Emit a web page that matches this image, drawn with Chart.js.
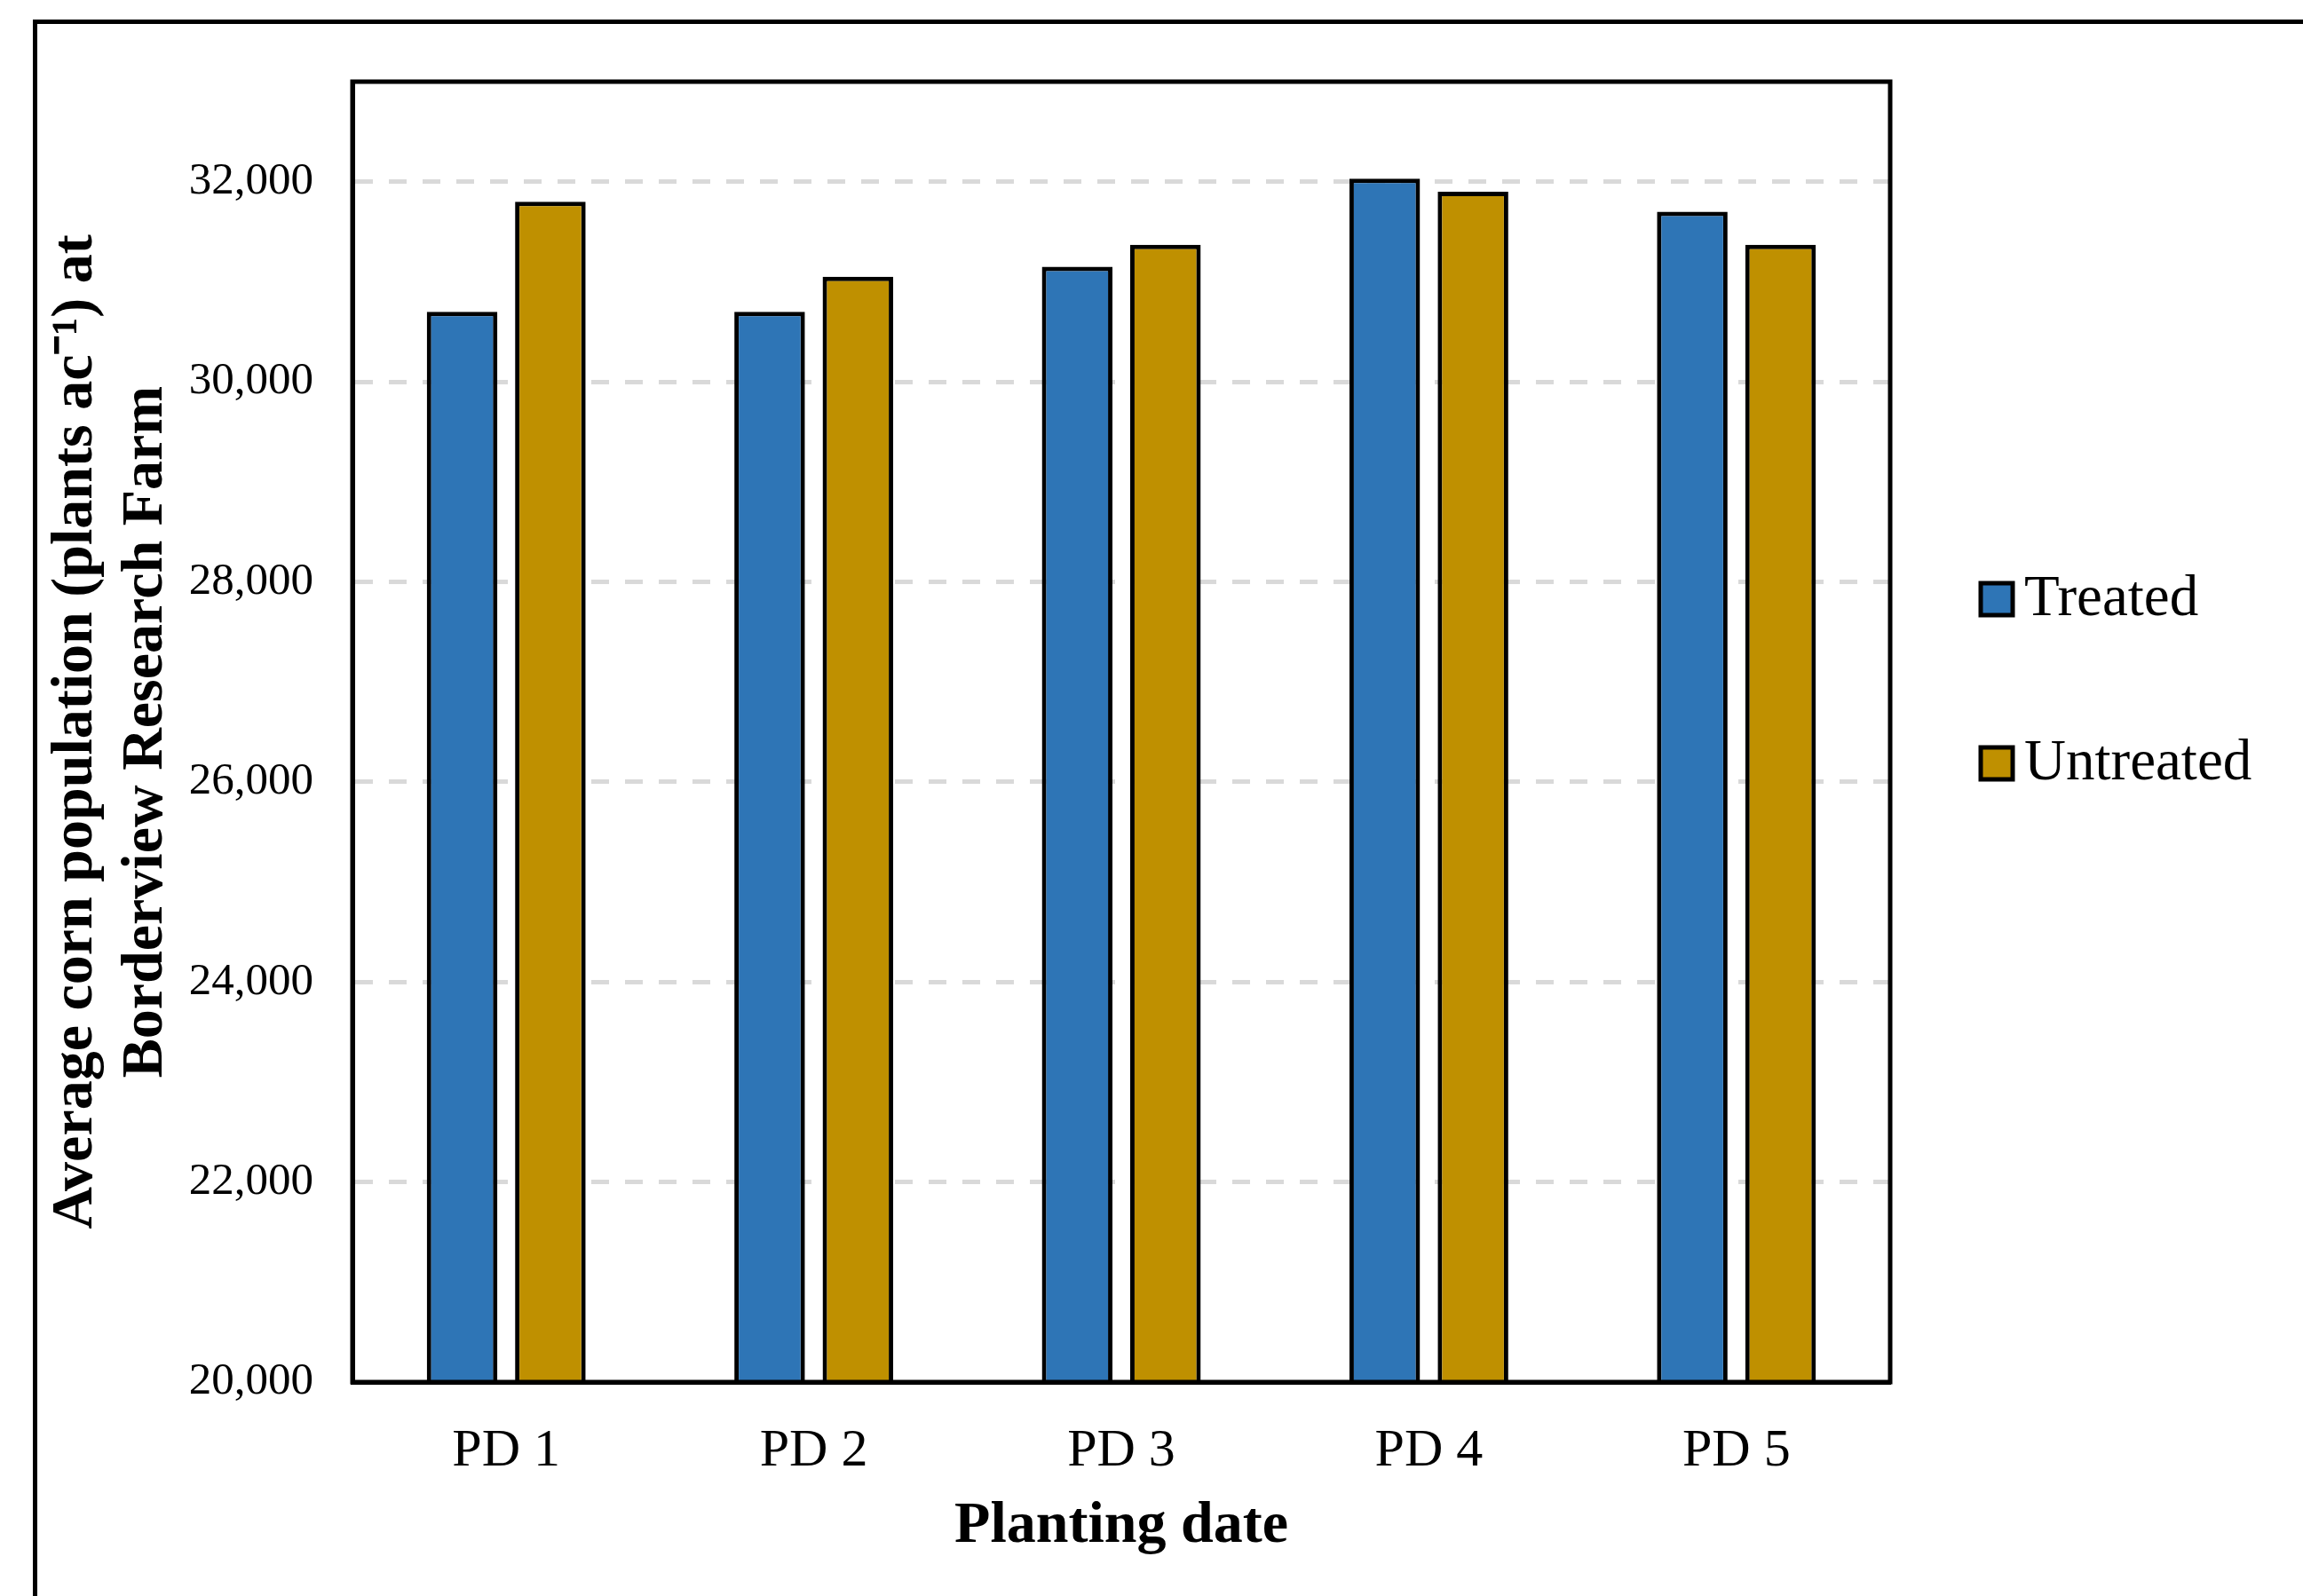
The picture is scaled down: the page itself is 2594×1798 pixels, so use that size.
<!DOCTYPE html>
<html>
<head>
<meta charset="utf-8">
<script src="https://cdn.jsdelivr.net/npm/chart.js@4.4.1/dist/chart.umd.min.js"></script>
<style>
    html, body { margin: 0; padding: 0; background: #fff; }
    #wrap { width: 2594px; height: 1798px; position: relative; }
</style>
</head>
<body>
<div id="wrap"><canvas id="chartPop" width="2594" height="1798"></canvas></div>
<script>
// Data
const plantingDates = ['PD 1', 'PD 2', 'PD 3', 'PD 4', 'PD 5'];
const treated = [30700, 30700, 31150, 32030, 31700];
const untreated = [31800, 31050, 31370, 31900, 31370];
const seriesNames = ['Treated', 'Untreated'];
const seriesColors = ['#2E75B6', '#BF9000'];
const yTickValues = [20000, 22000, 24000, 26000, 28000, 30000, 32000];

const SERIF = "'Liberation Serif', 'Times New Roman', serif";

// outer frame + box round the plot + legend on the right
const framePlugin = {
    id: 'frame',
    beforeDraw(chart) {
        const ctx = chart.ctx;
        ctx.save();
        ctx.fillStyle = '#fff';
        ctx.fillRect(0, 0, chart.width, chart.height);
        ctx.strokeStyle = '#000';
        ctx.lineWidth = 5;
        ctx.strokeRect(39.5, 24.5, 4000, 4000);
        ctx.restore();
    },
    afterDraw(chart) {
        const ctx = chart.ctx;
        const a = chart.chartArea;
        ctx.save();
        ctx.strokeStyle = '#000';
        ctx.lineWidth = 5;
        ctx.strokeRect(a.left, a.top, a.right - a.left, a.bottom - a.top);

        // legend
        const boxX = a.right + 102;
        const midY = (a.top + a.bottom) / 2 - 57;
        const step = 185;
        ctx.font = '65px ' + SERIF;
        ctx.textBaseline = 'alphabetic';
        ctx.textAlign = 'left';
        chart.data.datasets.forEach((ds, i) => {
            const cy = midY + (i - 0.5) * step;
            ctx.fillStyle = ds.backgroundColor;
            ctx.fillRect(boxX, cy - 18, 36, 36);
            ctx.lineWidth = 5;
            ctx.strokeRect(boxX, cy - 18, 36, 36);
            ctx.fillStyle = '#000';
            ctx.fillText(ds.label, boxX + 49, cy + 18);
        });
        ctx.restore();
    }
};

const ctx = document.getElementById('chartPop').getContext('2d');
const chartPop = new Chart(ctx, {
    type: 'bar',
    data: {
        labels: plantingDates,
        datasets: [
            { label: seriesNames[0], data: treated, backgroundColor: seriesColors[0] },
            { label: seriesNames[1], data: untreated, backgroundColor: seriesColors[1] }
        ]
    },
    options: {
        responsive: false,
        animation: false,
        layout: { padding: { left: 0, top: 92, right: 465, bottom: 0 } },
        datasets: {
            bar: {
                borderColor: '#000',
                borderWidth: 5,
                categoryPercentage: 0.574,
                barPercentage: 0.8
            }
        },
        plugins: {
            legend: { display: false },
            tooltip: { enabled: false }
        },
        scales: {
            x: {
                afterFit: s => { s.height = 241; },
                grid: { display: false },
                border: { display: true, color: '#000', width: 5 },
                ticks: {
                    color: '#000',
                    padding: 34,
                    font: { family: SERIF, size: 60 }
                },
                title: {
                    display: true,
                    text: 'Planting date',
                    color: '#000',
                    padding: { top: 0, bottom: 38 },
                    font: { family: SERIF, size: 66, weight: 'bold', lineHeight: 1.2 }
                }
            },
            y: {
                min: 20000,
                max: 33000,
                afterFit: s => { s.width = 397; },
                afterBuildTicks: s => { s.ticks = yTickValues.map(v => ({ value: v })); },
                grid: { color: '#d9d9d9', lineWidth: 5, drawTicks: false },
                border: { display: true, color: '#000', width: 5, dash: [20, 18] },
                ticks: {
                    color: '#000',
                    padding: 44,
                    font: { family: SERIF, size: 51 },
                    callback: v => v.toLocaleString('en-US')
                },
                title: {
                    display: true,
                    text: ['Average corn population (plants ac\u207B\u00B9) at', 'Borderview Research Farm'],
                    color: '#000',
                    padding: { top: 46, bottom: 0 },
                    font: { family: SERIF, size: 66, weight: 'bold', lineHeight: 1.2 }
                }
            }
        }
    },
    plugins: [framePlugin]
});
</script>
</body>
</html>
